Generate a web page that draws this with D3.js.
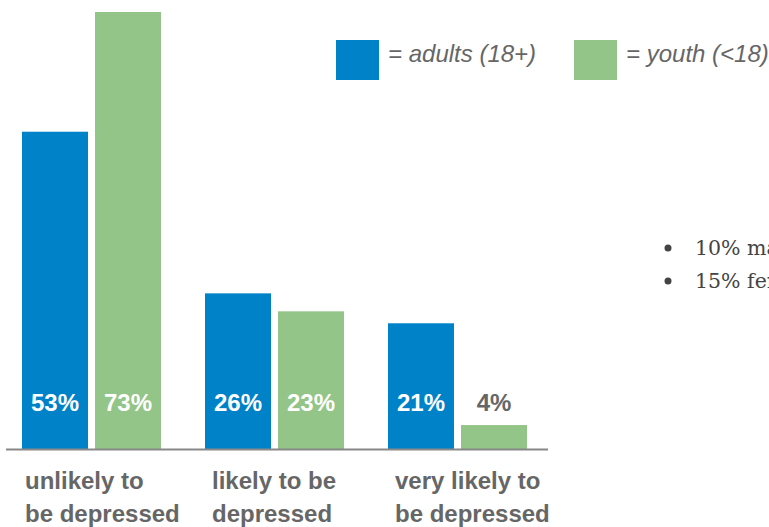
<!DOCTYPE html>
<html>
<head>
<meta charset="utf-8">
<script src="https://cdn.jsdelivr.net/npm/d3@7"></script>
<style>
  html, body { margin: 0; padding: 0; background: #ffffff; overflow: hidden; }
  svg { display: block; }
</style>
</head>
<body>
<svg id="chart" width="769" height="527"></svg>
<script>
// ---- data ----
const categories = ["unlikely to be depressed", "likely to be depressed", "very likely to be depressed"];
const categoryLines = [["unlikely to", "be depressed"], ["likely to be", "depressed"], ["very likely to", "be depressed"]];
const seriesNames = ["adults", "youth"];
const legendLabels = ["= adults (18+)", "= youth (<18)"];
const adultsValues = [53, 26, 21];
const youthValues = [73, 23, 4];
const bulletLines = ["10% males", "15% females"];

const colors = { adults: "#0082C8", youth: "#93C588" };
const textGray = "#666666";

const svg = d3.select("#chart");

const baseY = 449;
const y = d3.scaleLinear().domain([0, 73]).range([baseY, 12]);

const x0 = d3.scaleBand()
  .domain(categories)
  .range([22, 527])
  .paddingInner(44 / 183)
  .paddingOuter(0);

const x1 = d3.scaleBand()
  .domain(seriesNames)
  .range([0, x0.bandwidth()])
  .paddingInner(7 / 73)
  .paddingOuter(0);

const rows = categories.map((c, i) => ({
  cat: c,
  lines: categoryLines[i],
  values: [
    { s: "adults", v: adultsValues[i] },
    { s: "youth", v: youthValues[i] }
  ]
}));

// bars
const g = svg.selectAll("g.grp").data(rows).enter().append("g")
  .attr("class", "grp")
  .attr("transform", d => `translate(${x0(d.cat)},0)`);

g.selectAll("rect").data(d => d.values).enter().append("rect")
  .attr("x", d => x1(d.s))
  .attr("y", d => y(d.v))
  .attr("width", x1.bandwidth())
  .attr("height", d => baseY - y(d.v))
  .attr("fill", d => colors[d.s]);

// value labels
g.selectAll("text.val").data(d => d.values).enter().append("text")
  .attr("class", "val")
  .attr("x", d => x1(d.s) + x1.bandwidth() / 2)
  .attr("y", 411)
  .attr("text-anchor", "middle")
  .attr("font-family", "Liberation Sans, Arial, sans-serif")
  .attr("font-weight", "bold")
  .attr("font-size", 24)
  .attr("fill", d => (baseY - y(d.v)) > 40 ? "#ffffff" : textGray)
  .text(d => d.v + "%");

// baseline
svg.append("line")
  .attr("x1", 6).attr("x2", 548)
  .attr("y1", baseY + 0.5).attr("y2", baseY + 0.5)
  .attr("stroke", "#888888")
  .attr("stroke-width", 2);

// category labels
const labelOffsets = [3, 7, 7];
g.each(function(d, i) {
  const t = d3.select(this).append("text")
    .attr("font-family", "Liberation Sans, Arial, sans-serif")
    .attr("font-weight", "bold")
    .attr("font-size", 24)
    .attr("fill", textGray);
  d.lines.forEach((ln, j) => {
    t.append("tspan")
      .attr("x", labelOffsets[i])
      .attr("y", 489 + j * 33)
      .text(ln);
  });
});

// legend
const legendX = [336, 574];
const lg = svg.selectAll("g.leg").data(seriesNames).enter().append("g")
  .attr("class", "leg")
  .attr("transform", (d, i) => `translate(${legendX[i]},40)`);
lg.append("rect")
  .attr("width", 43).attr("height", 40)
  .attr("fill", d => colors[d]);
lg.append("text")
  .attr("x", 52)
  .attr("y", 22)
  .attr("font-family", "Liberation Sans, Arial, sans-serif")
  .attr("font-style", "italic")
  .attr("font-size", 24)
  .attr("fill", textGray)
  .text((d, i) => legendLabels[i]);

// bullets
const bl = svg.selectAll("g.bul").data(bulletLines).enter().append("g")
  .attr("class", "bul")
  .attr("transform", (d, i) => `translate(0,${255 + i * 33})`);
bl.append("circle")
  .attr("cx", 668).attr("cy", -7).attr("r", 3.5)
  .attr("fill", "#444444");
bl.append("text")
  .attr("x", 695)
  .attr("y", 0)
  .attr("font-family", "DejaVu Serif, serif")
  .attr("font-size", 20.5)
  .attr("fill", "#444444")
  .text(d => d);
</script>
</body>
</html>
